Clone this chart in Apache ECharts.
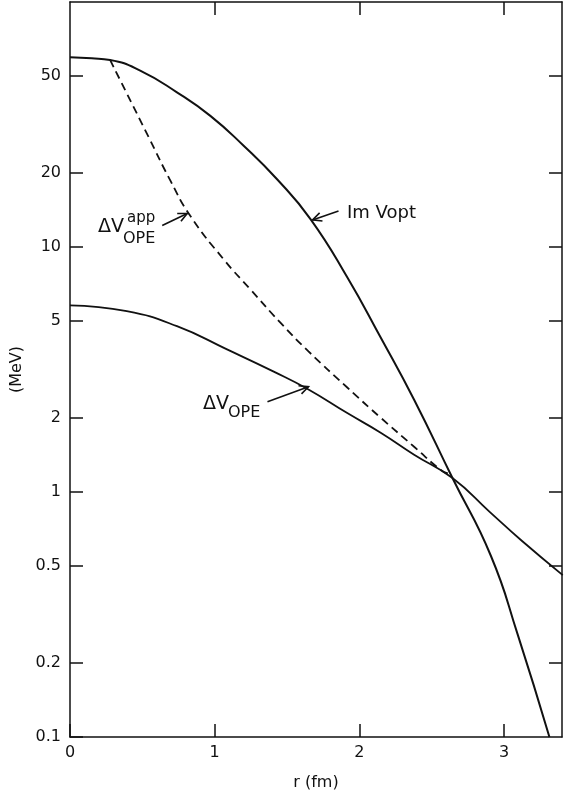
<!DOCTYPE html>
<html>
<head>
<meta charset="utf-8">
<script src="https://cdn.jsdelivr.net/npm/echarts@6.0.0/dist/echarts.min.js"></script>
<style>
  body { margin: 0; background: #fff; }
  #chart { width: 570px; height: 797px; }
</style>
</head>
<body>
<div id="chart"></div>
<script>
// values: r in fm, potentials in MeV
const imVoptR = [0, 0.15, 0.277, 0.485, 0.739, 0.970, 1.200, 1.431, 1.662, 1.916, 2.147, 2.378, 2.643, 2.909, 3.093, 3.313];
const imVoptV = [59.5, 58.9, 58.0, 52.5, 42.8, 34.3, 25.9, 18.9, 13.0, 7.52, 4.27, 2.38, 1.14, 0.548, 0.263, 0.1];

const dvOpeR = [0, 0.392, 0.739, 1.085, 1.408, 1.639, 1.916, 2.147, 2.378, 2.643, 2.9, 3.116, 3.405];
const dvOpeV = [5.78, 5.47, 4.75, 3.82, 3.10, 2.64, 2.10, 1.746, 1.42, 1.14, 0.83, 0.637, 0.458];

const dvAppR = [0.277, 0.542, 0.693, 0.831, 1.062, 1.247, 1.454, 1.648, 1.916, 2.147, 2.378, 2.562, 2.611];
const dvAppV = [58.0, 28.2, 18.7, 13.4, 8.9, 6.71, 4.91, 3.75, 2.67, 2.01, 1.53, 1.23, 1.19];

const yTicks = [0.1, 0.2, 0.5, 1, 2, 5, 10, 20, 50];
const yTickLabels = ['0.1', '0.2', '0.5', '1', '2', '5', '10', '20', '50'];
const xTicks = [0, 1, 2, 3];

function pairs(xs, ys) {
  return xs.map((x, i) => [x, ys[i]]);
}

const black = '#111';
const font = 'DejaVu Sans';

let myChart = echarts.init(document.getElementById('chart'));

const axisLine = { show: true, onZero: false, lineStyle: { color: black, width: 1.5 } };
const tickStyle = { color: black, width: 1.5 };

let option = {
  animation: false,
  backgroundColor: '#fff',
  grid: { left: 70, right: 8, top: 2, bottom: 60, containLabel: false },
  xAxis: [{
    type: 'value',
    min: 0,
    max: 3.4,
    interval: 1,
    name: 'r (fm)',
    nameLocation: 'middle',
    nameGap: 38,
    nameTextStyle: { color: black, fontSize: 16, fontFamily: font },
    axisLine: axisLine,
    axisTick: { inside: true, length: 13, lineStyle: tickStyle, customValues: xTicks },
    axisLabel: { color: black, fontSize: 16, fontFamily: font, margin: 8, customValues: xTicks },
    splitLine: { show: false }
  }, {
    type: 'value',
    position: 'top',
    min: 0,
    max: 3.4,
    interval: 1,
    axisLine: axisLine,
    axisTick: { inside: true, length: 13, lineStyle: tickStyle, customValues: [1, 2, 3] },
    axisLabel: { show: false },
    splitLine: { show: false }
  }],
  yAxis: [{
    type: 'log',
    logBase: 10,
    min: 0.1,
    max: 100,
    name: '(MeV)',
    nameLocation: 'middle',
    nameGap: 39,
    nameTextStyle: { color: black, fontSize: 16, fontFamily: font },
    axisLine: axisLine,
    axisTick: { inside: true, length: 13, lineStyle: tickStyle, customValues: yTicks },
    axisLabel: {
      color: black, fontSize: 16, fontFamily: font, margin: 9,
      customValues: yTicks,
      formatter: function (v) {
        let i = yTicks.findIndex(t => Math.abs(t - v) / t < 1e-6);
        return i >= 0 ? yTickLabels[i] : '';
      }
    },
    splitLine: { show: false },
    minorTick: { show: false }
  }, {
    type: 'log',
    logBase: 10,
    position: 'right',
    min: 0.1,
    max: 100,
    axisLine: axisLine,
    axisTick: { inside: true, length: 13, lineStyle: tickStyle, customValues: yTicks.slice(1) },
    axisLabel: { show: false },
    splitLine: { show: false }
  }],
  series: [{
    name: 'Im Vopt',
    type: 'line',
    smooth: 0.5,
    symbol: 'none',
    lineStyle: { color: black, width: 2 },
    data: pairs(imVoptR, imVoptV)
  }, {
    name: 'dV OPE',
    type: 'line',
    smooth: 0.5,
    symbol: 'none',
    lineStyle: { color: black, width: 1.8 },
    data: pairs(dvOpeR, dvOpeV)
  }, {
    name: 'dV OPE app',
    type: 'line',
    smooth: 0.5,
    symbol: 'none',
    lineStyle: { color: black, width: 1.8, type: [8, 5] },
    data: pairs(dvAppR, dvAppV)
  }]
};

myChart.setOption(option);

// annotations: arrow heads anchored on curves through the chart scales
function arrow(headData, dx, dy) {
  let h = myChart.convertToPixel({ gridIndex: 0 }, headData);
  let t = [h[0] + dx, h[1] + dy];
  let ang = Math.atan2(t[1] - h[1], t[0] - h[0]);
  let len = 10, spread = 0.45;
  let a1 = [h[0] + len * Math.cos(ang + spread), h[1] + len * Math.sin(ang + spread)];
  let a2 = [h[0] + len * Math.cos(ang - spread), h[1] + len * Math.sin(ang - spread)];
  let st = { stroke: black, lineWidth: 1.6, fill: null };
  return [
    { type: 'polyline', shape: { points: [t, h] }, style: st },
    { type: 'polyline', shape: { points: [a1, h, a2] }, style: st }
  ];
}

function label(text, x, y, size) {
  return {
    type: 'text', x: x, y: y,
    style: { text: text, fill: black, font: size + 'px "' + font + '"', textAlign: 'left', textVerticalAlign: 'middle' }
  };
}

let g = [];
g = g.concat(arrow([1.676, 12.9], 26, -9));
g.push(label('Im Vopt', 347, 213, 18));

g = g.concat(arrow([0.810, 13.7], -25, 12));
g.push(label('ΔV', 98, 227, 19));
g.push(label('app', 127, 218, 15));
g.push(label('OPE', 123, 239, 16));

g = g.concat(arrow([1.648, 2.69], -41, 15));
g.push(label('ΔV', 203, 404, 19));
g.push(label('OPE', 228, 413, 16));

myChart.setOption({ graphic: g });
</script>
</body>
</html>
